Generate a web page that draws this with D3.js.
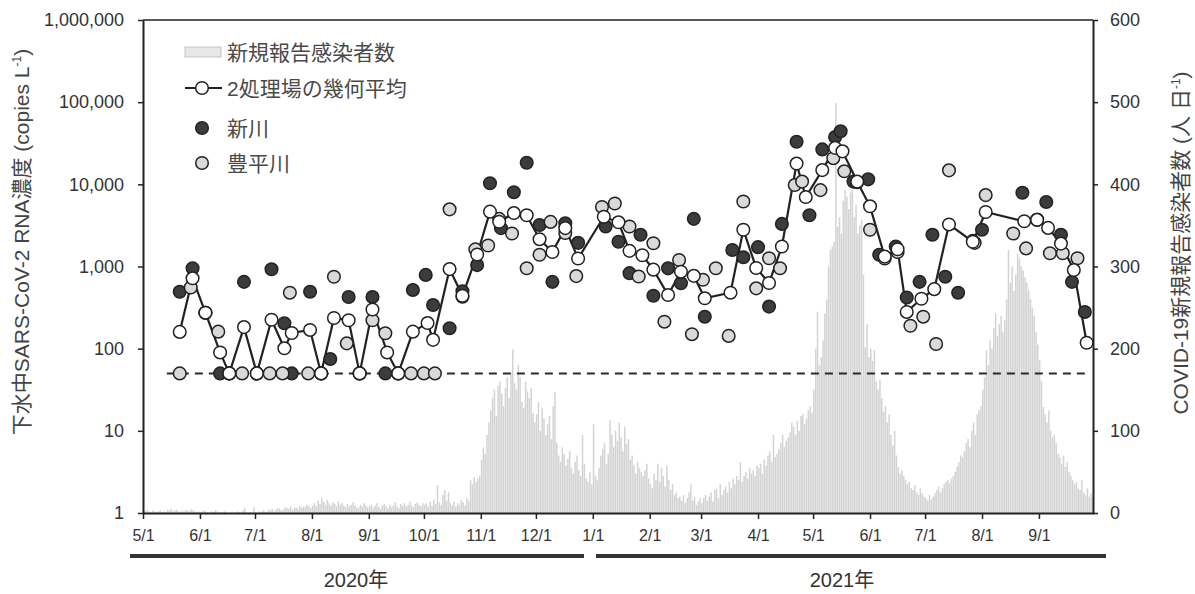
<!DOCTYPE html>
<html>
<head>
<meta charset="utf-8">
<script src="https://cdn.jsdelivr.net/npm/d3@7"></script>
<style>
  body { margin: 0; background: #fff; }
  text { font-family: "Liberation Sans", "Noto Sans CJK JP", sans-serif; }
</style>
</head>
<body>
<svg id="chart" width="1195" height="594"></svg>
<script>
// daily reported cases, from 2020-05-01 (one row per month)
const cases2020 = [
  3,2,4,2,1,3,2,1,2,3,1,2,1,4,3,5,2,3,4,2,1,3,2,4,3,2,5,3,2,1,2,
  1,2,3,2,1,0,2,1,3,2,1,0,1,2,1,0,0,1,0,1,2,1,0,3,6,1,0,1,0,7,
  1,0,2,1,3,2,1,4,3,5,2,4,6,5,3,4,7,6,5,8,4,6,7,5,9,6,8,7,10,8,6,
  9,12,8,15,11,18,14,10,16,12,9,13,11,8,14,10,12,9,7,11,8,10,13,9,7,6,10,8,12,9,7,
  8,10,6,9,12,7,5,9,11,8,6,10,7,9,13,8,6,11,9,12,8,10,14,9,7,11,13,10,8,12,
  10,12,8,14,9,16,11,34,13,10,22,28,15,25,12,9,14,8,12,10,16,13,9,18,15,40,35,44,38,42,45,
  65,80,72,95,110,125,140,150,118,155,160,145,130,152,165,140,170,199,158,150,180,165,135,128,160,148,140,152,122,110,
  120,135,100,128,115,95,108,118,90,130,147,85,70,62,80,72,58,66,75,55,48,62,70,52,45,95,60,42,38,50,35
];
// daily reported cases, from 2021-01-01
const cases2021 = [
  108,45,40,55,70,78,85,60,72,113,95,80,100,88,110,92,75,105,84,90,65,70,58,48,62,55,50,45,52,60,42,
  35,30,48,40,60,38,55,45,32,58,40,28,35,22,25,18,20,15,22,12,18,25,35,15,20,10,14,18,
  12,18,22,15,20,25,14,28,30,18,35,22,28,32,25,38,30,42,35,45,40,62,38,45,50,42,55,48,52,45,58,
  55,60,48,65,58,70,75,62,95,68,72,78,85,95,80,88,92,98,110,105,95,112,100,118,120,108,115,125,130,122,
  150,200,245,180,190,210,243,260,300,320,324,330,499,348,360,340,380,393,385,370,390,393,360,375,340,350,357,290,202,230,190,
  200,185,198,160,150,162,140,123,130,110,120,95,82,100,70,56,48,52,45,40,35,38,30,28,34,25,22,30,24,20,
  18,15,22,16,20,24,28,32,25,30,35,38,40,36,42,45,50,56,62,70,68,75,85,90,80,100,110,95,120,125,130,
  150,165,198,180,210,200,225,243,215,230,240,220,235,260,320,280,300,270,290,316,310,300,295,287,280,271,260,250,240,220,205,
  186,160,129,120,110,125,100,92,95,85,72,68,60,70,56,62,50,45,40,35,38,30,28,40,25,22,30,20,24,18
];

// 新川 (copies/L)
const shinkawa = [
  ["2020-05-21",493],["2020-05-28",950],["2020-06-04",274],["2020-06-12",50],["2020-06-17",50],
  ["2020-06-25",650],["2020-07-02",50],["2020-07-10",924],["2020-07-17",204],["2020-07-21",50],
  ["2020-07-31",493],["2020-08-06",50],["2020-08-11",75],["2020-08-21",425],["2020-08-27",50],
  ["2020-09-03",425],["2020-09-10",50],["2020-09-17",50],["2020-09-25",517],["2020-10-02",790],
  ["2020-10-06",340],["2020-10-15",177],["2020-10-22",500],["2020-10-30",1040],["2020-11-06",10300],
  ["2020-11-12",2930],["2020-11-19",8000],["2020-11-26",18300],["2020-12-03",3200],["2020-12-10",650],
  ["2020-12-17",3350],["2020-12-24",1940],["2021-01-08",3070],["2021-01-15",2000],["2021-01-21",830],
  ["2021-01-27",2430],["2021-02-03",440],["2021-02-11",950],["2021-02-18",625],["2021-02-25",3800],
  ["2021-03-03",245],["2021-03-18",1590],["2021-03-24",1295],["2021-04-01",1720],["2021-04-07",325],
  ["2021-04-14",3300],["2021-04-22",33000],["2021-04-29",4200],["2021-05-06",26600],["2021-05-13",37600],
  ["2021-05-16",44200],["2021-05-23",10800],["2021-05-31",11500],["2021-06-06",1390],["2021-06-15",1750],
  ["2021-06-21",420],["2021-06-28",650],["2021-07-05",2430],["2021-07-12",750],["2021-07-19",480],
  ["2021-07-27",2050],["2021-08-01",2800],["2021-08-23",7900],["2021-08-31",3700],["2021-09-05",6100],
  ["2021-09-13",2430],["2021-09-19",650],["2021-09-26",280]
];

// 豊平川 (copies/L)
const toyohira = [
  ["2020-05-21",50],["2020-05-27",555],["2020-06-04",274],["2020-06-11",161],["2020-06-17",50],
  ["2020-06-24",50],["2020-07-02",50],["2020-07-09",50],["2020-07-16",50],["2020-07-20",480],
  ["2020-07-30",50],["2020-08-06",50],["2020-08-13",750],["2020-08-20",116],["2020-08-27",50],
  ["2020-09-03",222],["2020-09-10",154],["2020-09-17",50],["2020-09-24",50],["2020-10-01",50],
  ["2020-10-07",50],["2020-10-15",4960],["2020-10-22",428],["2020-10-29",1616],["2020-11-05",1800],
  ["2020-11-11",3800],["2020-11-18",2520],["2020-11-26",952],["2020-12-03",1390],["2020-12-09",3490],
  ["2020-12-17",2560],["2020-12-23",764],["2021-01-06",5300],["2021-01-13",5840],["2021-01-21",3070],
  ["2021-01-26",755],["2021-02-03",1920],["2021-02-09",213],["2021-02-17",1200],["2021-02-24",150],
  ["2021-03-02",690],["2021-03-09",952],["2021-03-16",143],["2021-03-24",6180],["2021-03-31",542],
  ["2021-04-07",1260],["2021-04-13",952],["2021-04-21",9800],["2021-04-25",10800],["2021-05-05",8500],
  ["2021-05-12",20800],["2021-05-18",14400],["2021-05-25",10600],["2021-06-01",2800],["2021-06-09",1250],
  ["2021-06-16",1500],["2021-06-23",190],["2021-06-30",245],["2021-07-07",114],["2021-07-14",14800],
  ["2021-07-28",1940],["2021-08-03",7400],["2021-08-18",2520],["2021-08-25",1660],["2021-08-31",3700],
  ["2021-09-07",1450],["2021-09-14",1450],["2021-09-22",1260]
];

// 2処理場の幾何平均 (copies/L)
const geoMean = [
  ["2020-05-21",160],["2020-05-28",718],["2020-06-04",274],["2020-06-12",90],["2020-06-17",50],
  ["2020-06-25",183],["2020-07-02",50],["2020-07-10",225],["2020-07-17",101],["2020-07-21",155],
  ["2020-07-31",169],["2020-08-06",50],["2020-08-13",236],["2020-08-21",222],["2020-08-27",50],
  ["2020-09-03",300],["2020-09-11",90],["2020-09-17",50],["2020-09-25",161],["2020-10-03",205],
  ["2020-10-06",128],["2020-10-15",930],["2020-10-22",440],["2020-10-30",1400],["2020-11-06",4650],
  ["2020-11-11",3500],["2020-11-19",4470],["2020-11-26",4200],["2020-12-03",2150],["2020-12-10",1500],
  ["2020-12-17",2930],["2020-12-24",1250],["2021-01-07",4030],["2021-01-15",3450],["2021-01-21",1550],
  ["2021-01-28",1370],["2021-02-03",915],["2021-02-11",450],["2021-02-18",865],["2021-02-25",770],
  ["2021-03-03",410],["2021-03-17",480],["2021-03-24",2800],["2021-03-31",960],["2021-04-07",630],
  ["2021-04-14",1750],["2021-04-22",17900],["2021-04-27",7000],["2021-05-06",14900],["2021-05-13",27800],
  ["2021-05-17",25200],["2021-05-25",10800],["2021-06-01",5400],["2021-06-09",1320],["2021-06-16",1620],
  ["2021-06-21",280],["2021-06-29",405],["2021-07-06",530],["2021-07-14",3250],["2021-07-27",2000],
  ["2021-08-03",4600],["2021-08-24",3550],["2021-08-31",3700],["2021-09-06",2950],["2021-09-13",1900],
  ["2021-09-20",905],["2021-09-27",118]
];

const detectionLimit = 50;
const limitSpan = ["2020-05-14", "2021-09-26"];
const logTicks = [1, 10, 100, 1000, 10000, 100000, 1000000];
const caseTicks = [0, 100, 200, 300, 400, 500, 600];
const yearLabels = ["2020年", "2021年"];

const parse = d3.timeParse("%Y-%m-%d");
const svg = d3.select("#chart");
const plotLeft = 143, plotRight = 1094, plotTop = 20, plotBottom = 513;

const x = d3.scaleTime()
  .domain([parse("2020-05-01"), parse("2021-10-01")])
  .range([plotLeft, plotRight]);
const y = d3.scaleLog().domain([1, 1e6]).range([plotBottom, plotTop]);
const yCases = d3.scaleLinear().domain([0, 600]).range([plotBottom, plotTop]);

// daily case bars
const start = parse("2020-05-01");
const daily = cases2020.concat(cases2021).map((v, i) => ({ date: d3.timeDay.offset(start, i), v }));
svg.append("g")
  .selectAll("rect")
  .data(daily)
  .join("rect")
  .attr("x", d => x(d.date))
  .attr("width", 1.5)
  .attr("y", d => yCases(d.v))
  .attr("height", d => yCases(0) - yCases(d.v))
  .attr("fill", "#d3d3d3");

// detection limit
svg.append("line")
  .attr("x1", x(parse(limitSpan[0])))
  .attr("x2", x(parse(limitSpan[1])))
  .attr("y1", y(detectionLimit))
  .attr("y2", y(detectionLimit))
  .attr("stroke", "#2a2a2a")
  .attr("stroke-width", 2)
  .attr("stroke-dasharray", "8,6");

// top border
svg.append("line")
  .attr("x1", plotLeft).attr("x2", plotRight - 1)
  .attr("y1", plotTop).attr("y2", plotTop)
  .attr("stroke", "#222").attr("stroke-width", 1.5);

// axes
const monthTicks = d3.timeMonth.range(parse("2020-05-01"), parse("2021-09-02"));

const styleAxis = (g, size) => {
  g.select(".domain").attr("stroke", "#222").attr("stroke-width", 2);
  g.selectAll(".tick line").attr("stroke", "#222").attr("stroke-width", 1.5);
  g.selectAll(".tick text").attr("fill", "#333").attr("font-size", size)
    .attr("font-family", "'Liberation Sans', sans-serif");
};

svg.append("g")
  .attr("transform", `translate(${plotLeft},0)`)
  .call(d3.axisLeft(y).tickValues(logTicks).tickFormat(d3.format(","))
    .tickSize(5).tickSizeOuter(0).tickPadding(14))
  .call(g => styleAxis(g, 18));

svg.append("g")
  .attr("transform", `translate(${plotRight - 1},0)`)
  .call(d3.axisRight(yCases).tickValues(caseTicks).tickSize(5).tickSizeOuter(0).tickPadding(12))
  .call(g => styleAxis(g, 18));

svg.append("g")
  .attr("transform", `translate(0,${plotBottom})`)
  .call(d3.axisBottom(x).tickValues(monthTicks).tickFormat(d => (d.getMonth() + 1) + "/1")
    .tickSize(6).tickSizeOuter(0).tickPadding(11))
  .call(g => styleAxis(g, 16));

// geometric mean line
const pts = arr => arr.map(([d, v]) => ({ date: parse(d), v }));
svg.append("path")
  .datum(pts(geoMean))
  .attr("fill", "none")
  .attr("stroke", "#222")
  .attr("stroke-width", 2.2)
  .attr("d", d3.line().x(d => x(d.date)).y(d => y(d.v)));

const r = 6.3;
const dots = (data, fill) => svg.append("g")
  .selectAll("circle")
  .data(pts(data))
  .join("circle")
  .attr("cx", d => x(d.date))
  .attr("cy", d => y(d.v))
  .attr("r", r)
  .attr("fill", fill)
  .attr("stroke", "#222")
  .attr("stroke-width", 1.5);

dots(shinkawa, "#3c3c3c");
dots(toyohira, "#d9d9d9");
dots(geoMean, "#ffffff");

// legend
const lg = svg.append("g");
const legendText = (ty, label) => lg.append("text")
  .attr("x", 227).attr("y", ty).attr("dy", "0.36em")
  .attr("font-size", 21).attr("fill", "#4a4a4a")
  .text(label);

lg.append("rect").attr("x", 185).attr("y", 47).attr("width", 36).attr("height", 10)
  .attr("fill", "#e8e8e8").attr("stroke", "#c4c4c4");
legendText(52, "新規報告感染者数");

lg.append("line").attr("x1", 185).attr("x2", 222).attr("y1", 88).attr("y2", 88)
  .attr("stroke", "#222").attr("stroke-width", 2.2);
lg.append("circle").attr("cx", 202).attr("cy", 88).attr("r", r)
  .attr("fill", "#fff").attr("stroke", "#222").attr("stroke-width", 1.5);
legendText(88, "2処理場の幾何平均");

lg.append("circle").attr("cx", 202).attr("cy", 128).attr("r", r)
  .attr("fill", "#3c3c3c").attr("stroke", "#222").attr("stroke-width", 1.5);
legendText(128, "新川");

lg.append("circle").attr("cx", 202).attr("cy", 163).attr("r", r)
  .attr("fill", "#d9d9d9").attr("stroke", "#222").attr("stroke-width", 1.5);
legendText(163, "豊平川");

// axis titles
const axisTitle = (tx, ty, main) => {
  const t = svg.append("text")
    .attr("transform", `translate(${tx},${ty}) rotate(-90)`)
    .attr("text-anchor", "middle")
    .attr("font-size", 21)
    .attr("fill", "#444");
  t.append("tspan").text(main);
  t.append("tspan").attr("font-size", 12).attr("dy", -8).text("-1");
  t.append("tspan").attr("dy", 8).text(")");
};
axisTitle(29, 242, "下水中SARS-CoV-2 RNA濃度 (copies L");
axisTitle(1188, 243, "COVID-19新規報告感染者数 (人 日");

// year bars
const yearSpans = [[130, 584], [596, 1106]];
yearSpans.forEach(([a, b], i) => {
  svg.append("line").attr("x1", a).attr("x2", b).attr("y1", 556).attr("y2", 556)
    .attr("stroke", "#333").attr("stroke-width", 4);
  svg.append("text")
    .attr("x", (i === 0 ? 356 : 842)).attr("y", 587)
    .attr("text-anchor", "middle")
    .attr("font-size", 20).attr("fill", "#333")
    .text(yearLabels[i]);
});
</script>
</body>
</html>
